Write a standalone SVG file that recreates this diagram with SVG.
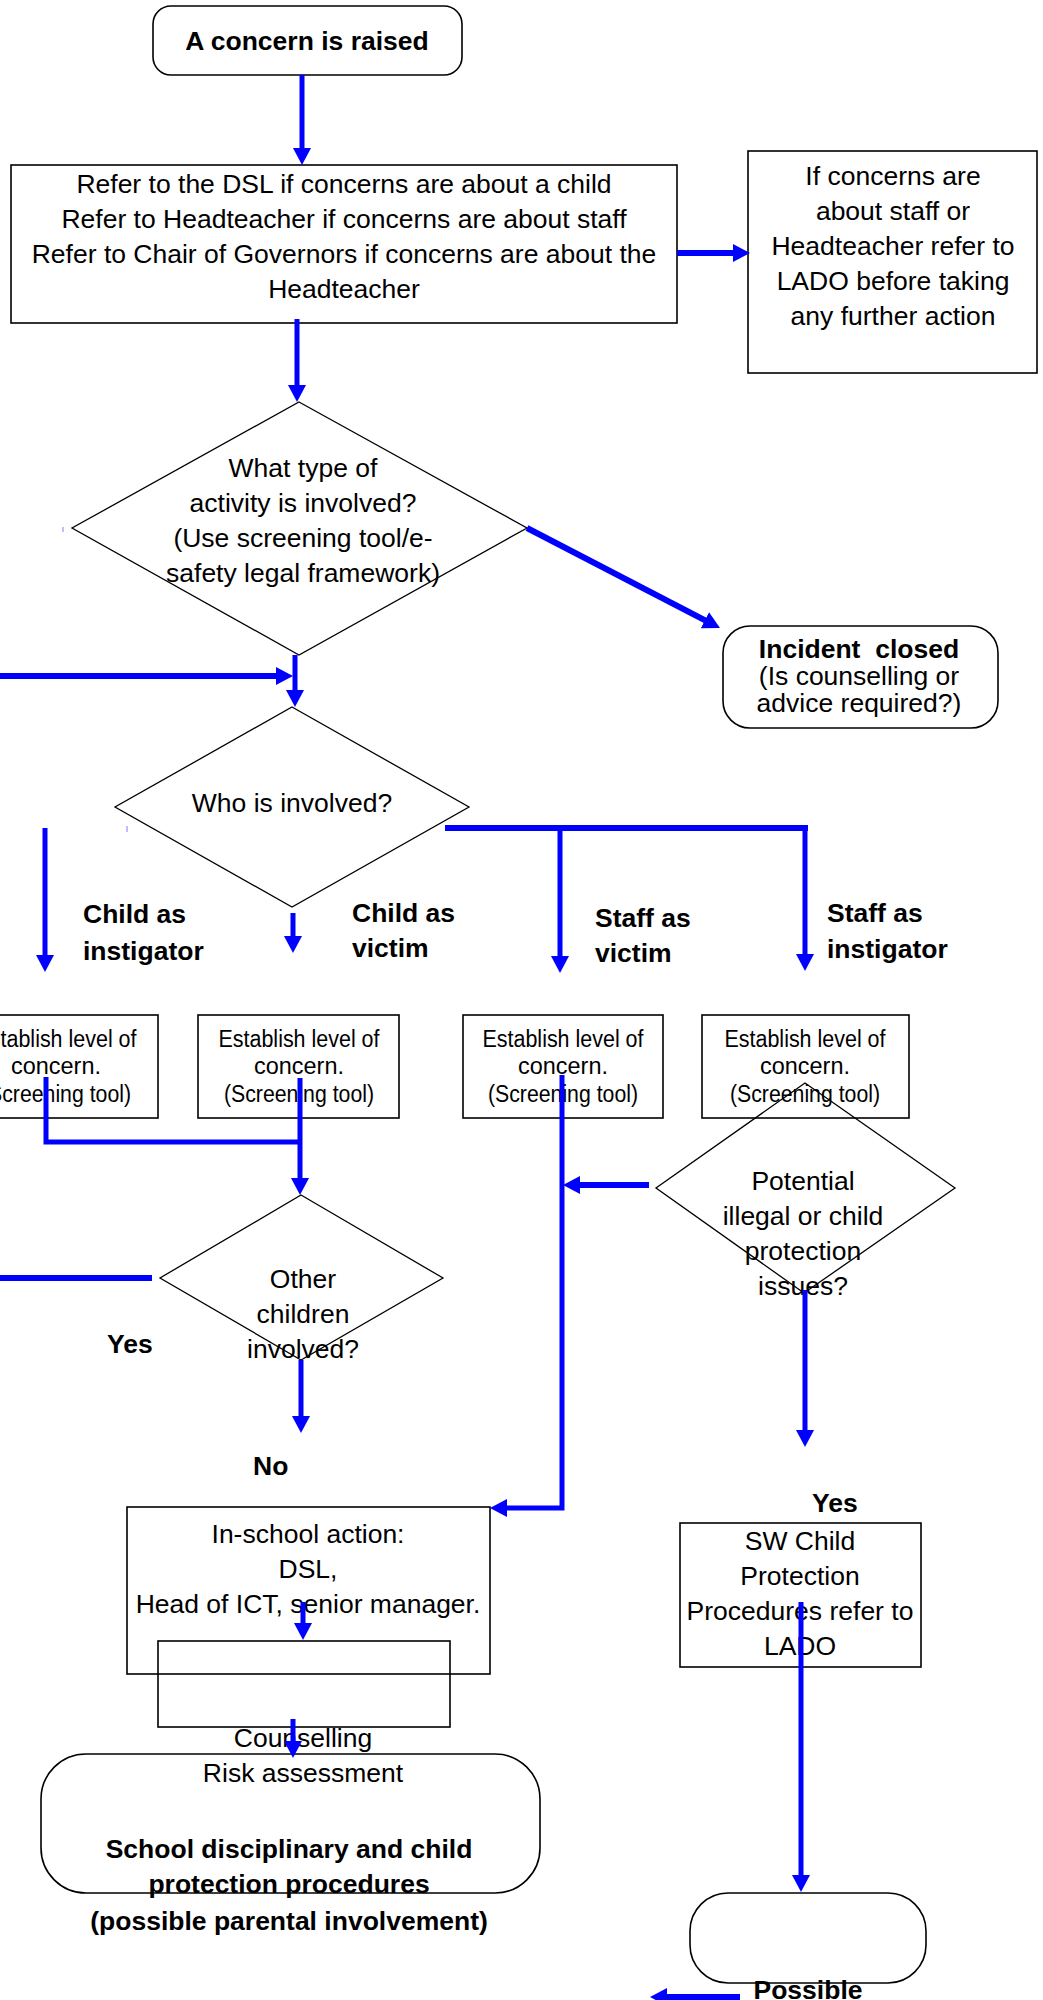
<svg xmlns="http://www.w3.org/2000/svg" width="1043" height="2000" viewBox="0 0 1043 2000">
<style>
.box{fill:none;stroke:#000;stroke-width:1.6}
.dia{fill:none;stroke:#000;stroke-width:1.3}
text{font-family:"Liberation Sans",Arial,sans-serif;font-size:26.5px;fill:#000}
.c{text-anchor:middle}
.b{font-weight:bold}
.sm{font-size:23.5px}
.con{fill:none;stroke:#0000ff;stroke-width:5}
.thick{stroke-width:6}
.tick{stroke:#7f7fff;stroke-width:1}
</style>
<defs>
<marker id="ah" markerUnits="userSpaceOnUse" markerWidth="18" markerHeight="18" refX="9" refY="9" orient="auto">
<path d="M0,0 L17,9 L0,18 z" fill="#0000ff"/>
</marker>
</defs>

<g id="n-raised">
<rect class="box" x="153" y="6" width="309" height="69" rx="18"/>
<text class="c b" x="307" y="50">A concern is raised</text>
</g>
<g id="n-refer">
<rect class="box" x="11" y="165" width="666" height="158"/>
<text class="c" x="344" y="193">Refer to the DSL if concerns are about a child</text>
<text class="c" x="344" y="228">Refer to Headteacher if concerns are about staff</text>
<text class="c" x="344" y="263">Refer to Chair of Governors if concerns are about the</text>
<text class="c" x="344" y="298">Headteacher</text>
</g>
<g id="n-lado">
<rect class="box" x="748" y="151" width="289" height="222"/>
<text class="c" x="893" y="185">If concerns are</text>
<text class="c" x="893" y="220">about staff or</text>
<text class="c" x="893" y="255">Headteacher refer to</text>
<text class="c" x="893" y="290">LADO before taking</text>
<text class="c" x="893" y="325">any further action</text>
</g>
<g id="d-activity">
<polygon class="dia" points="299,402 527,528 299,655 72,528"/>
<text class="c" x="303" y="477">What type of</text>
<text class="c" x="303" y="512">activity is involved?</text>
<text class="c" x="303" y="547">(Use screening tool/e-</text>
<text class="c" x="303" y="582">safety legal framework)</text>
</g>
<g id="n-closed">
<rect class="box" x="723" y="626" width="275" height="102" rx="27"/>
<text class="c b" x="859" y="658" xml:space="preserve">Incident  closed</text>
<text class="c" x="859" y="685">(Is counselling or</text>
<text class="c" x="859" y="712">advice required?)</text>
</g>
<g id="d-who">
<polygon class="dia" points="292,707 469,807 292,907 115,807"/>
<text class="c" x="292" y="812">Who is involved?</text>
</g>
<g id="labels">
<text class="b" x="83" y="923">Child as</text>
<text class="b" x="83" y="960">instigator</text>
<text class="b" x="352" y="922">Child as</text>
<text class="b" x="352" y="957">victim</text>
<text class="b" x="595" y="927">Staff as</text>
<text class="b" x="595" y="962">victim</text>
<text class="b" x="827" y="922">Staff as</text>
<text class="b" x="827" y="958">instigator</text>
</g>
<g id="n-est-a">
<rect class="box" x="-44" y="1015" width="202" height="103"/>
<text class="c sm" x="56" y="1047" textLength="161" lengthAdjust="spacingAndGlyphs">Establish level of</text>
<text class="c sm" x="56" y="1074" textLength="90" lengthAdjust="spacingAndGlyphs">concern.</text>
<text class="c sm" x="56" y="1102" textLength="150" lengthAdjust="spacingAndGlyphs">(Screening tool)</text>
</g>
<g id="n-est-b">
<rect class="box" x="198" y="1015" width="201" height="103"/>
<text class="c sm" x="299" y="1047" textLength="161" lengthAdjust="spacingAndGlyphs">Establish level of</text>
<text class="c sm" x="299" y="1074" textLength="90" lengthAdjust="spacingAndGlyphs">concern.</text>
<text class="c sm" x="299" y="1102" textLength="150" lengthAdjust="spacingAndGlyphs">(Screening tool)</text>
</g>
<g id="n-est-c">
<rect class="box" x="463" y="1015" width="200" height="103"/>
<text class="c sm" x="563" y="1047" textLength="161" lengthAdjust="spacingAndGlyphs">Establish level of</text>
<text class="c sm" x="563" y="1074" textLength="90" lengthAdjust="spacingAndGlyphs">concern.</text>
<text class="c sm" x="563" y="1102" textLength="150" lengthAdjust="spacingAndGlyphs">(Screening tool)</text>
</g>
<g id="n-est-d">
<rect class="box" x="702" y="1015" width="207" height="103"/>
<text class="c sm" x="805" y="1047" textLength="161" lengthAdjust="spacingAndGlyphs">Establish level of</text>
<text class="c sm" x="805" y="1074" textLength="90" lengthAdjust="spacingAndGlyphs">concern.</text>
<text class="c sm" x="805" y="1102" textLength="150" lengthAdjust="spacingAndGlyphs">(Screening tool)</text>
</g>
<g id="d-illegal">
<polygon class="dia" points="805,1083 955,1188 804,1293 656,1188"/>
<text class="c" x="803" y="1190">Potential</text>
<text class="c" x="803" y="1225">illegal or child</text>
<text class="c" x="803" y="1260">protection</text>
<text class="c" x="803" y="1295">issues?</text>
</g>
<g id="d-other">
<polygon class="dia" points="301,1195 443,1278 301,1360 160,1278"/>
<text class="c" x="303" y="1288">Other</text>
<text class="c" x="303" y="1323">children</text>
<text class="c" x="303" y="1358">involved?</text>
</g>
<g id="labels2">
<text class="b" x="107" y="1353">Yes</text>
<text class="b" x="253" y="1475">No</text>
<text class="b" x="812" y="1512">Yes</text>
</g>
<g id="n-inschool">
<rect class="box" x="127" y="1507" width="363" height="167"/>
<text class="c" x="308" y="1543">In-school action:</text>
<text class="c" x="308" y="1578">DSL,</text>
<text class="c" x="308" y="1613">Head of ICT, senior manager.</text>
</g>
<g id="n-inner">
<rect class="box" x="158" y="1641" width="292" height="86"/>
<text class="c" x="303" y="1747">Counselling</text>
</g>
<g id="n-discipline">
<rect class="box" x="41" y="1754" width="499" height="139" rx="45"/>
<text class="c" x="303" y="1782">Risk assessment</text>
<text class="c b" x="289" y="1858">School disciplinary and child</text>
<text class="c b" x="289" y="1893">protection procedures</text>
<text class="c b" x="289" y="1930">(possible parental involvement)</text>
</g>
<g id="n-sw">
<rect class="box" x="680" y="1523" width="241" height="144"/>
<text class="c" x="800" y="1550">SW Child</text>
<text class="c" x="800" y="1585">Protection</text>
<text class="c" x="800" y="1620">Procedures refer to</text>
<text class="c" x="800" y="1655">LADO</text>
</g>
<g id="n-possible">
<rect class="box" x="690" y="1893" width="236" height="90" rx="38"/>
<text class="c b" x="808" y="1999">Possible</text>
</g>

<g id="connectors">
<line class="con" x1="302" y1="75" x2="302" y2="157" marker-end="url(#ah)"/>
<line class="con thick" x1="677" y1="253" x2="742" y2="253" marker-end="url(#ah)"/>
<line class="con" x1="297" y1="319" x2="297" y2="394" marker-end="url(#ah)"/>
<line class="con thick" x1="527" y1="528" x2="712.9" y2="624.3" marker-end="url(#ah)"/>
<line class="con" x1="295" y1="655" x2="295" y2="699" marker-end="url(#ah)"/>
<line class="con thick" x1="0" y1="676" x2="285" y2="676" marker-end="url(#ah)"/>
<line class="con" x1="45" y1="828" x2="45" y2="964" marker-end="url(#ah)"/>
<line class="con" x1="293" y1="913" x2="293" y2="945" marker-end="url(#ah)"/>
<line class="con thick" x1="445" y1="828" x2="808" y2="828"/>
<line class="con" x1="560" y1="828" x2="560" y2="965" marker-end="url(#ah)"/>
<line class="con" x1="805" y1="828" x2="805" y2="963" marker-end="url(#ah)"/>
<path class="con" d="M46,1077 V1142 H300"/>
<line class="con" x1="300" y1="1078" x2="300" y2="1187" marker-end="url(#ah)"/>
<path class="con" d="M562,1075 V1508 H498" marker-end="url(#ah)"/>
<line class="con thick" x1="649" y1="1185" x2="571" y2="1185" marker-end="url(#ah)"/>
<line class="con thick" x1="0" y1="1278" x2="152" y2="1278"/>
<line class="con" x1="301" y1="1360" x2="301" y2="1425" marker-end="url(#ah)"/>
<line class="con" x1="805" y1="1290" x2="805" y2="1439" marker-end="url(#ah)"/>
<line class="con" x1="303" y1="1602" x2="303" y2="1632" marker-end="url(#ah)"/>
<line class="con" x1="293" y1="1719" x2="293" y2="1750" marker-end="url(#ah)"/>
<line class="con" x1="801" y1="1602" x2="801" y2="1884" marker-end="url(#ah)"/>
<line class="con thick" x1="740" y1="1997" x2="658" y2="1997" marker-end="url(#ah)"/>
<line class="tick" x1="63" y1="527" x2="63" y2="532"/>
<line class="tick" x1="127" y1="826" x2="127" y2="832"/>
</g>
</svg>
